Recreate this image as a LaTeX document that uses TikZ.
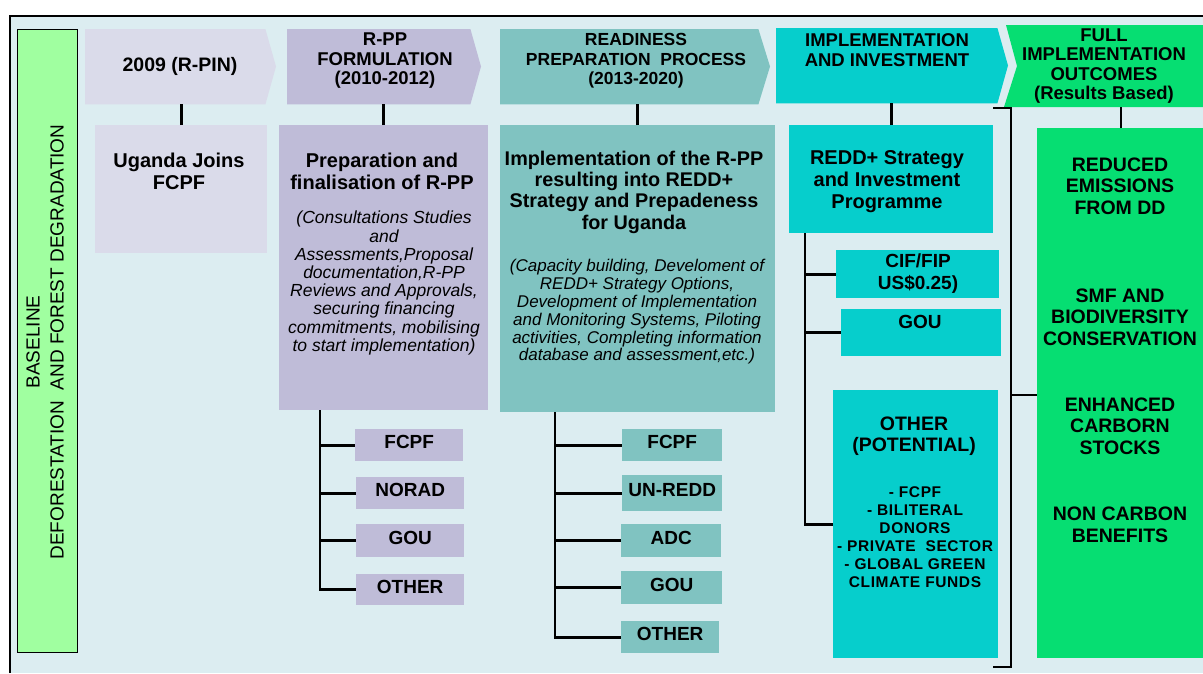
\documentclass[tikz,border=0pt]{standalone}
\usepackage{fontspec}
\setmainfont{Liberation Sans}
\definecolor{bgc}{HTML}{DCEDF1}
\definecolor{lav1}{HTML}{DADBEA}
\definecolor{lav2}{HTML}{BFBCD8}
\definecolor{teal1}{HTML}{80C3C1}
\definecolor{cyan1}{HTML}{06CECC}
\definecolor{green1}{HTML}{06DE72}
\definecolor{lgreen}{HTML}{A0FFA0}
\tikzset{
 box/.style={rectangle, inner sep=0pt, anchor=north west},
 conn/.style={line width=2.8pt, black},
 hdr/.style={font=\fontsize{18.5}{19.5}\selectfont\bfseries, align=center, inner sep=0pt},
 ttl/.style={font=\fontsize{20}{22}\selectfont\bfseries, align=center, inner sep=0pt},
 itl/.style={font=\fontsize{17.5}{18.2}\selectfont\itshape, align=center, inner sep=0pt},
 sub/.style={box, font=\fontsize{19}{22}\selectfont\bfseries, text depth=6pt},
 grn/.style={font=\fontsize{19.5}{21.5}\selectfont\bfseries, align=center, inner sep=0pt},
}
\begin{document}
\begin{tikzpicture}[x=1pt,y=-1pt]
\useasboundingbox (0,0) rectangle (1203,673);
\fill[white] (0,0) rectangle (1203,673);
\fill[bgc] (10,16) rectangle (1203,673);
\draw[line width=1.3pt] (10,673) -- (10,16) -- (1203,16);

% baseline
\node[box, draw=black, line width=1pt, fill=lgreen, minimum width=60pt, minimum height=623pt] (base) at (17,29) {};
\node[rotate=90, font=\fontsize{19}{24}\selectfont, align=center, inner sep=0pt] (baset) at (45,342) {BASELINE\\DEFORESTATION\ \ AND FOREST DEGRADATION};

% headers (chevrons)
\node[box, minimum width=180pt, minimum height=75pt] (h1) at (85,29) {};
\fill[lav1] (h1.north west) -- (h1.north east) -- (276,66.5) -- (h1.south east) -- (h1.south west) -- cycle;
\node[hdr, font=\fontsize{19.5}{21}\selectfont\bfseries] (h1t) at (180,66) {2009 (R-PIN)};

\node[box, minimum width=183pt, minimum height=75pt] (h2) at (287,29) {};
\fill[lav2] (h2.north west) -- (h2.north east) -- (481,66.5) -- (h2.south east) -- (h2.south west) -- cycle;
\node[hdr] (h2t) at (385,61) {R-PP\\FORMULATION\\(2010-2012)};

\node[box, minimum width=258pt, minimum height=75pt] (h3) at (500,29) {};
\fill[teal1] (h3.north west) -- (h3.north east) -- (770,66.5) -- (h3.south east) -- (h3.south west) -- cycle;
\node[hdr, font=\fontsize{17.5}{19.5}\selectfont\bfseries] (h3t) at (636,61) {READINESS\\PREPARATION\ \ PROCESS\\(2013-2020)};

\node[box, minimum width=221pt, minimum height=75pt] (h4) at (776,28) {};
\fill[cyan1] (h4.north west) -- (h4.north east) -- (1008,65.5) -- (h4.south east) -- (h4.south west) -- cycle;
\node[hdr] (h4t) at (887,50) {IMPLEMENTATION\\AND INVESTMENT};

\fill[green1] (1006,25) -- (1203,25) -- (1203,107) -- (1004,107) -- (1017,66) -- cycle;
\node[hdr] (h5t) at (1104,66) {FULL\\IMPLEMENTATION\\OUTCOMES\\(Results Based)};
\coordinate (h5b) at (1121,107);

% main boxes
\node[box, fill=lav1, minimum width=172pt, minimum height=128pt] (b1) at (95,125) {};
\node[ttl] (b1t) at (179,171) {Uganda Joins\\FCPF};

\node[box, fill=lav2, minimum width=209pt, minimum height=285pt] (b2) at (279,125) {};
\node[ttl] (b2t) at (382,171) {Preparation and\\finalisation of R-PP};
\node[itl] (b2i) at (384,283) {(Consultations Studies\\and\\Assessments,Proposal\\documentation,R-PP\\Reviews and Approvals,\\securing financing\\commitments, mobilising\\to start implementation)};

\node[box, fill=teal1, minimum width=275pt, minimum height=287pt] (b3) at (500,125) {};
\node[ttl, font=\fontsize{19.8}{21.3}\selectfont\bfseries] (b3t) at (634,192) {Implementation of the R-PP\\resulting into REDD+\\Strategy and Prepadeness\\for Uganda};
\node[font=\fontsize{17}{17.8}\selectfont\itshape, align=center, inner sep=0pt] (b3i) at (637,312) {(Capacity building, Develoment of\\REDD+ Strategy Options,\\Development of Implementation\\and Monitoring Systems, Piloting\\activities, Completing information\\database and assessment,etc.)};

\node[box, fill=cyan1, minimum width=204pt, minimum height=108pt] (b4) at (789,125) {};
\node[ttl] (b4t) at (887,182) {REDD+ Strategy\\and Investment\\Programme};

\node[box, fill=cyan1, minimum width=163pt, minimum height=48pt] (c4) at (836,250) {};
\node[ttl, font=\fontsize{19}{22}\selectfont\bfseries] (c4t) at (918,274) {CIF/FIP\\US\$0.25)};
\node[box, fill=cyan1, minimum width=160pt, minimum height=47pt] (u4) at (841,309) {};
\node[ttl, font=\fontsize{19}{22}\selectfont\bfseries] (u4t) at (920,322) {GOU};
\node[box, fill=cyan1, minimum width=165pt, minimum height=268pt] (o4) at (833,390) {};
\node[ttl, font=\fontsize{19.5}{21}\selectfont\bfseries] (o4t) at (914,436) {OTHER\\(POTENTIAL)};
\node[font=\fontsize{15.5}{18}\selectfont\bfseries\addfontfeature{LetterSpace=4}, align=center, inner sep=0pt] (o4l) at (915,537) {- FCPF\\- BILITERAL\\DONORS\\- PRIVATE\ \ SECTOR\\- GLOBAL GREEN\\CLIMATE FUNDS};

\node[box, fill=green1, minimum width=166pt, minimum height=530pt] (g) at (1037,128) {};
\node[grn] (gr1) at (1120,186) {REDUCED\\EMISSIONS\\FROM DD};
\node[grn] (gr2) at (1120,317) {SMF AND\\BIODIVERSITY\\CONSERVATION};
\node[grn] (gr3) at (1120,426) {ENHANCED\\CARBORN\\STOCKS};
\node[grn] (gr4) at (1120,525) {NON CARBON\\BENEFITS};

% vertical connectors header -> box
\draw[conn] (b1.north) -- (b1.north |- h1.south);
\draw[conn] (b2.north) -- (b2.north |- h2.south);
\draw[conn] (b3.north) -- (b3.north |- h3.south);
\draw[conn] (b4.north) -- (b4.north |- h4.south);
\draw[conn] (g.north -| h5b) -- (h5b);

% column 2 sources
\node[sub, fill=lav2, minimum width=108pt, minimum height=32pt] (s2a) at (355,429) {FCPF};
\node[sub, fill=lav2, minimum width=108pt, minimum height=32pt] (s2b) at (356,477) {NORAD};
\node[sub, fill=lav2, minimum width=108pt, minimum height=33pt] (s2c) at (356,524) {GOU};
\node[sub, fill=lav2, minimum width=108pt, minimum height=31pt] (s2d) at (356,574) {OTHER};
\coordinate (t2) at (320,410);
\draw[conn] (t2) |- (s2d.west);
\draw[conn] (t2 |- s2a.west) -- (s2a.west);
\draw[conn] (t2 |- s2b.west) -- (s2b.west);
\draw[conn] (t2 |- s2c.west) -- (s2c.west);

% column 3 sources
\node[sub, fill=teal1, minimum width=100pt, minimum height=32pt] (s3a) at (622,429) {FCPF};
\node[sub, fill=teal1, minimum width=100pt, minimum height=36pt] (s3b) at (622,475) {UN-REDD};
\node[sub, fill=teal1, minimum width=100pt, minimum height=33pt] (s3c) at (621,524) {ADC};
\node[sub, fill=teal1, minimum width=101pt, minimum height=33pt] (s3d) at (621,571) {GOU};
\node[sub, fill=teal1, minimum width=98pt, minimum height=32pt] (s3e) at (621,621) {OTHER};
\coordinate (t3) at (555,412);
\draw[conn] (t3) |- (s3e.west);
\draw[conn] (t3 |- s3a.west) -- (s3a.west);
\draw[conn] (t3 |- s3b.west) -- (s3b.west);
\draw[conn] (t3 |- s3c.west) -- (s3c.west);
\draw[conn] (t3 |- s3d.west) -- (s3d.west);

% column 4 tree
\coordinate (t4) at (805,233);
\draw[conn] (t4) |- (o4.west);
\draw[conn] (t4 |- c4.west) -- (c4.west);
\draw[conn] (t4 |- u4.west) -- (u4.west);

% bracket
\coordinate (bt) at (993,108);
\coordinate (bb) at (993,667);
\coordinate (bm) at (1011,395);
\draw[conn] (bt) -- (bt -| bm) -- (bb -| bm) -- (bb);
\draw[conn] (bm) -- (bm -| g.west);
\end{tikzpicture}
\end{document}
